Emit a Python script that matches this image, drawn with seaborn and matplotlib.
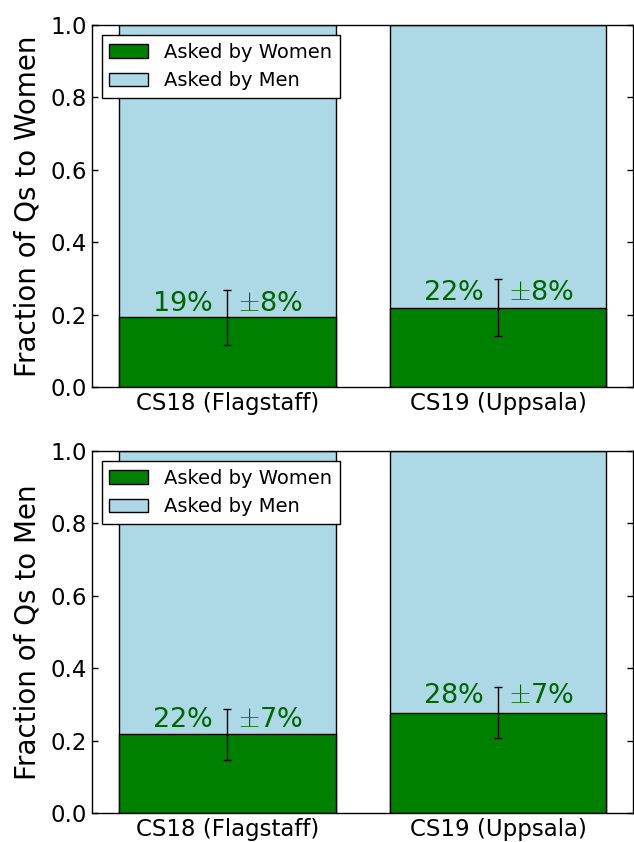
import matplotlib
matplotlib.use("Agg")
import matplotlib.pyplot as plt
import seaborn as sns
import pandas as pd

# Data
venues = ["CS18 (Flagstaff)", "CS19 (Uppsala)"]
frac_to_women = [0.192, 0.219]
err_to_women = [0.077, 0.078]
frac_to_men = [0.217, 0.277]
err_to_men = [0.071, 0.070]
pct_labels_women = [("19", "8"), ("22", "8")]
pct_labels_men = [("22", "7"), ("28", "7")]
panel_ylabels = ["Fraction of Qs to Women", "Fraction of Qs to Men"]

sns.set_style("ticks")
plt.rcParams.update({
    "font.family": ["DejaVu Sans"],
    "mathtext.fontset": "cm",
    "xtick.direction": "in",
    "ytick.direction": "in",
    "xtick.top": True,
    "ytick.right": True,
    "xtick.major.size": 4,
    "ytick.major.size": 4,
    "xtick.major.width": 1,
    "ytick.major.width": 1,
    "axes.linewidth": 1,
    "axes.edgecolor": "black",
    "xtick.color": "black",
    "ytick.color": "black",
    "text.color": "black",
    "axes.labelcolor": "black",
})

fig = plt.figure(figsize=(6.34, 8.42), dpi=100)
ax_top = fig.add_axes([0.1451, 0.5404, 0.854, 0.4299])
ax_bot = fig.add_axes([0.1451, 0.0344, 0.854, 0.4299])

panels = [
    (ax_top, frac_to_women, err_to_women, pct_labels_women, panel_ylabels[0]),
    (ax_bot, frac_to_men, err_to_men, pct_labels_men, panel_ylabels[1]),
]

for ax, fracs, errs, labels, ylab in panels:
    df = pd.DataFrame({"venue": venues, "frac": fracs, "total": [1.0] * len(venues)})
    sns.barplot(data=df, x="venue", y="total", color="lightblue", saturation=1,
                edgecolor="black", linewidth=1, width=0.8, ax=ax, label="Asked by Men")
    sns.barplot(data=df, x="venue", y="frac", color="green", saturation=1,
                edgecolor="black", linewidth=1, width=0.8, ax=ax, label="Asked by Women")
    ax.errorbar(range(len(venues)), fracs, yerr=errs, fmt="none", ecolor="black",
                elinewidth=1, capsize=3, capthick=1)
    for i, (p, e) in enumerate(labels):
        ax.text(i, fracs[i] * 1.1, p + "%   $\\pm$" + e + "%", ha="center",
                va="baseline", fontsize=19.5, color="darkgreen")

    ax.set_xlim(-0.5, 1.5)
    ax.set_ylim(0, 1.0)
    ax.set_yticks([0.0, 0.2, 0.4, 0.6, 0.8, 1.0])
    ax.set_yticklabels(["0.0", "0.2", "0.4", "0.6", "0.8", "1.0"])
    ax.tick_params(axis="both", labelsize=16.5)
    ax.set_xlabel("")
    ax.set_ylabel(ylab, fontsize=20)
    ax.yaxis.set_label_coords(-0.093, 0.5)

    handles, lbls = ax.get_legend_handles_labels()
    leg = ax.legend(handles[::-1], lbls[::-1], loc="upper left", fontsize=14,
                    fancybox=False, frameon=True, framealpha=1, edgecolor="black",
                    borderaxespad=0.5, handlelength=2, labelspacing=0.5)
    leg.get_frame().set_linewidth(1)

fig.savefig("out.png", dpi=100)
